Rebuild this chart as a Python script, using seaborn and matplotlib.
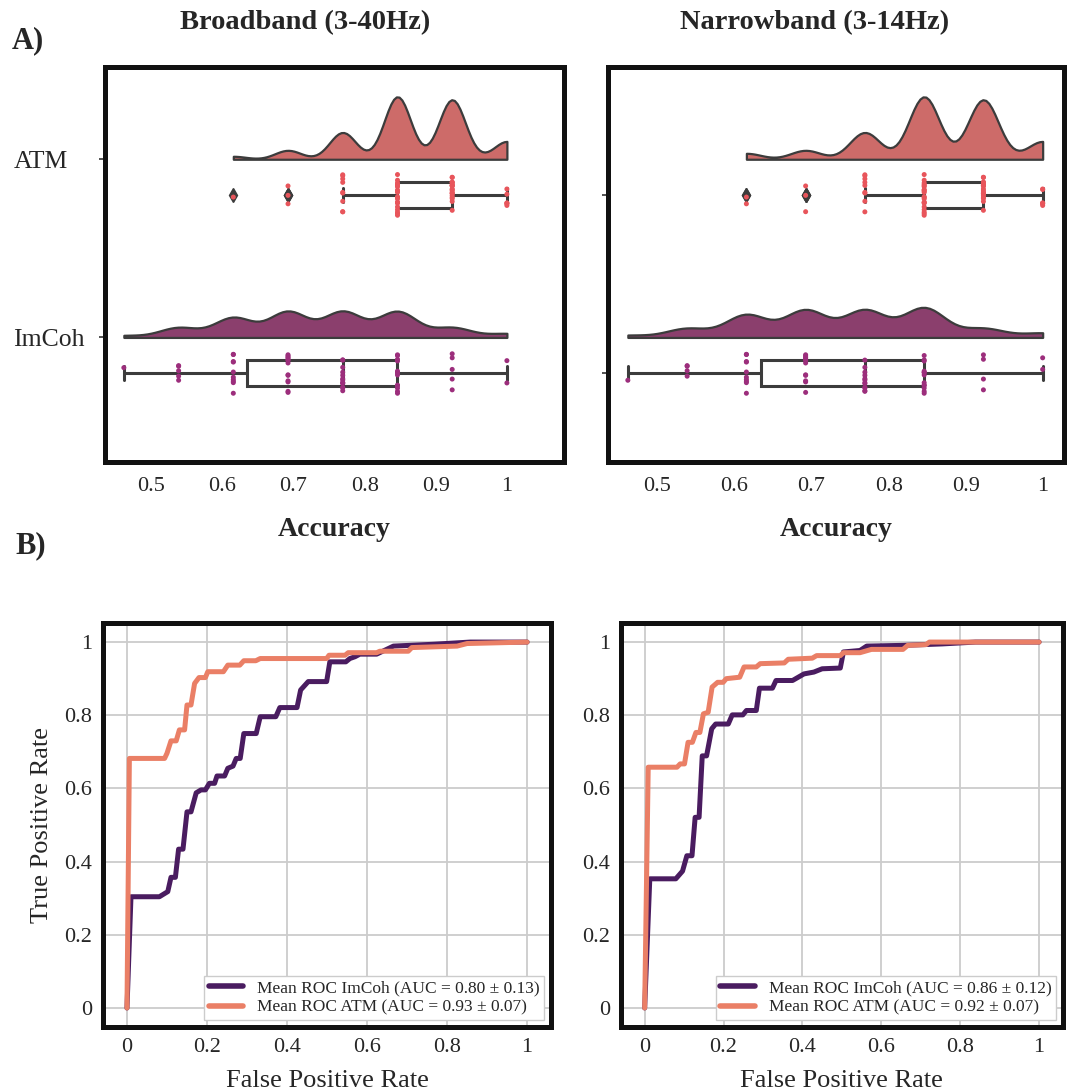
import numpy as np
import pandas as pd
import matplotlib.pyplot as plt
import seaborn as sns
from matplotlib.ticker import FormatStrFormatter

sns.set_theme(style='white')
plt.rcParams['font.family'] = ['Liberation Serif', 'DejaVu Serif']

# accuracy levels (k/13 correct) and how many runs hit each one
ACC_LEVELS = [0.4615, 0.5385, 0.6154, 0.6923, 0.7692, 0.8462, 0.9231, 1.0]
GROUPS = ['ATM', 'ImCoh']
BROAD_ATM = [0, 0, 1, 3, 9, 21, 20, 6]
BROAD_IMCOH = [1, 5, 10, 13, 13, 13, 5, 2]
NARROW_ATM = [0, 0, 2, 3, 9, 21, 20, 6]
NARROW_IMCOH = [1, 4, 10, 12, 12, 13, 4, 2]

# mean roc curves
BROAD_IMCOH_FPR = [0.0, 0.01, 0.081, 0.102, 0.11, 0.121, 0.129, 0.14, 0.15, 0.16, 0.173, 0.185, 0.196, 0.206,
                   0.219, 0.225, 0.244, 0.252, 0.265, 0.273, 0.283, 0.292, 0.323, 0.333, 0.372, 0.382, 0.425,
                   0.434, 0.453, 0.499, 0.507, 0.547, 0.557, 0.57, 0.582, 0.624, 0.666, 0.766, 0.858, 1.0]
BROAD_IMCOH_TPR = [0.0, 0.304, 0.304, 0.318, 0.357, 0.357, 0.434, 0.434, 0.536, 0.536, 0.588, 0.596, 0.596,
                   0.614, 0.614, 0.634, 0.634, 0.655, 0.661, 0.682, 0.682, 0.75, 0.75, 0.796, 0.796, 0.821,
                   0.821, 0.869, 0.892, 0.892, 0.946, 0.946, 0.955, 0.96, 0.967, 0.967, 0.989, 0.994, 1.0, 1.0]
BROAD_ATM_FPR = [0.0, 0.006, 0.094, 0.10, 0.11, 0.123, 0.131, 0.144, 0.15, 0.16, 0.169, 0.18, 0.196, 0.202,
                 0.241, 0.252, 0.282, 0.292, 0.322, 0.333, 0.499, 0.505, 0.545, 0.553, 0.624, 0.632, 0.703,
                 0.712, 0.825, 0.85, 1.0]
BROAD_ATM_TPR = [0.0, 0.682, 0.682, 0.696, 0.73, 0.73, 0.76, 0.76, 0.828, 0.828, 0.887, 0.903, 0.903, 0.919,
                 0.919, 0.937, 0.937, 0.949, 0.949, 0.955, 0.955, 0.964, 0.964, 0.971, 0.971, 0.975, 0.975,
                 0.985, 0.989, 0.996, 1.0]
NARROW_IMCOH_FPR = [0.0, 0.013, 0.079, 0.096, 0.107, 0.12, 0.128, 0.138, 0.146, 0.157, 0.17, 0.18, 0.212,
                    0.222, 0.249, 0.258, 0.283, 0.291, 0.324, 0.333, 0.375, 0.404, 0.429, 0.45, 0.496, 0.504,
                    0.546, 0.563, 0.655, 0.755, 0.839, 1.0]
NARROW_IMCOH_TPR = [0.0, 0.353, 0.353, 0.374, 0.416, 0.416, 0.521, 0.521, 0.689, 0.689, 0.763, 0.776, 0.776,
                    0.801, 0.801, 0.813, 0.813, 0.874, 0.874, 0.895, 0.895, 0.913, 0.918, 0.927, 0.929, 0.973,
                    0.977, 0.989, 0.991, 0.995, 1.0, 1.0]
NARROW_ATM_FPR = [0.0, 0.009, 0.082, 0.09, 0.101, 0.11, 0.121, 0.13, 0.14, 0.149, 0.161, 0.171, 0.185, 0.199,
                  0.207, 0.241, 0.252, 0.283, 0.293, 0.354, 0.364, 0.425, 0.436, 0.496, 0.504, 0.546, 0.575,
                  0.655, 0.667, 0.713, 0.722, 1.0]
NARROW_ATM_TPR = [0.0, 0.658, 0.658, 0.667, 0.667, 0.726, 0.726, 0.753, 0.753, 0.804, 0.808, 0.877, 0.89,
                  0.89, 0.9, 0.904, 0.932, 0.932, 0.941, 0.943, 0.953, 0.956, 0.963, 0.963, 0.971, 0.971, 0.98,
                  0.98, 0.991, 0.993, 1.0, 1.0]
BROAD_AUC = {'ImCoh': (0.80, 0.13), 'ATM': (0.93, 0.07)}
NARROW_AUC = {'ImCoh': (0.86, 0.12), 'ATM': (0.92, 0.07)}

VIOLIN_COLORS = ['#cd6b69', '#8b3f6d']
DOT_COLORS = {'ATM': '#e8555b', 'ImCoh': '#9c2e7c'}
ROC_COLORS = {'ImCoh': '#4a1c60', 'ATM': '#ea7f66'}
EDGE = '#3c3c3c'
CLOUD_W = 0.35   # height of the half violins (category units)


def raincloud(ax, atm_counts, imcoh_counts):
    acc = np.concatenate([np.repeat(ACC_LEVELS, atm_counts), np.repeat(ACC_LEVELS, imcoh_counts)])
    grp = ['ATM'] * sum(atm_counts) + ['ImCoh'] * sum(imcoh_counts)
    df = pd.DataFrame({'group': grp, 'acc': acc})
    base = df['group'].map({'ATM': 0.0, 'ImCoh': 1.0})
    # split violin without hue fills the whole slot, so shift it up to sit on the category line
    df['vpos'] = base - CLOUD_W / 2
    df['bpos'] = base + 0.2

    sns.violinplot(data=df, x='acc', y='vpos', orient='h', native_scale=True, split=True, inner=None,
                   cut=0, bw_adjust=0.5, width=CLOUD_W, color=VIOLIN_COLORS[0], saturation=1,
                   linewidth=1.6, linecolor=EDGE, ax=ax)
    for coll, c in zip(ax.collections, VIOLIN_COLORS):
        coll.set_facecolor(c)

    np.random.seed(3)
    sns.stripplot(data=df, x='acc', y='bpos', hue='group', palette=DOT_COLORS, orient='h',
                  native_scale=True, jitter=0.12, size=3.6, legend=False, ax=ax)
    sns.boxplot(data=df, x='acc', y='bpos', orient='h', native_scale=True, width=0.15, color='white',
                linecolor=EDGE, linewidth=2.2, boxprops={'facecolor': 'none'},
                flierprops={'marker': 'd', 'markersize': 7, 'markerfacecolor': EDGE, 'markeredgecolor': EDGE},
                ax=ax)
    ax.set_ylim(1.70, -0.517)
    ax.set_xticks([0.5, 0.6, 0.7, 0.8, 0.9, 1.0])
    ax.xaxis.set_major_formatter(FormatStrFormatter('%g'))
    ax.tick_params(axis='x', length=0, pad=11, labelsize=16)
    ax.set_xlabel('Accuracy', fontsize=20, fontweight='bold', labelpad=15)
    ax.set_ylabel('')


def roc(ax, im_fpr, im_tpr, atm_fpr, atm_tpr, auc):
    sns.lineplot(x=im_fpr, y=im_tpr, color=ROC_COLORS['ImCoh'], lw=3.6, estimator=None, sort=False,
                 label='Mean ROC ImCoh (AUC = %.2f \u00b1 %.2f)' % auc['ImCoh'], ax=ax)
    sns.lineplot(x=atm_fpr, y=atm_tpr, color=ROC_COLORS['ATM'], lw=3.6, estimator=None, sort=False,
                 label='Mean ROC ATM (AUC = %.2f \u00b1 %.2f)' % auc['ATM'], ax=ax)
    ax.set_xlim(-0.06, 1.06)
    ax.set_ylim(-0.052, 1.052)
    ticks = [0, 0.2, 0.4, 0.6, 0.8, 1.0]
    ax.set_xticks(ticks)
    ax.set_yticks(ticks)
    ax.xaxis.set_major_formatter(FormatStrFormatter('%g'))
    ax.yaxis.set_major_formatter(FormatStrFormatter('%g'))
    ax.grid(True, color='#cccccc', linewidth=1.3)
    ax.set_axisbelow(True)
    ax.tick_params(length=0, pad=8, labelsize=16)
    ax.set_xlabel('False Positive Rate', fontsize=19, labelpad=9)
    leg = ax.legend(loc='lower right', fontsize=12.5, labelspacing=0.2, borderpad=0.25,
                    handlelength=2.0, borderaxespad=0.4, framealpha=1, edgecolor='#cccccc', fancybox=False)
    for line in leg.get_lines():
        line.set_linewidth(4)


fig = plt.figure(figsize=(10.67, 10.9), dpi=100)
ax_a1 = fig.add_axes([0.0984, 0.576, 0.430, 0.3624])
ax_a2 = fig.add_axes([0.570, 0.576, 0.4274, 0.3624])
ax_b1 = fig.add_axes([0.0965, 0.0578, 0.420, 0.3706])
ax_b2 = fig.add_axes([0.582, 0.0578, 0.414, 0.3706])

raincloud(ax_a1, BROAD_ATM, BROAD_IMCOH)
ax_a1.set_xlim(0.435, 1.08)
ax_a1.set_yticks([0, 1])
ax_a1.set_yticklabels(GROUPS, fontsize=18.5, ha='left')
ax_a1.tick_params(axis='y', left=True, length=4, width=1.2, color='#333333', pad=62)

raincloud(ax_a2, NARROW_ATM, NARROW_IMCOH)
ax_a2.set_xlim(0.436, 1.028)
ax_a2.set_yticks([0.2, 1.2])
ax_a2.set_yticklabels(['', ''])
ax_a2.tick_params(axis='y', left=True, length=4, width=1.2, color='#333333')

roc(ax_b1, BROAD_IMCOH_FPR, BROAD_IMCOH_TPR, BROAD_ATM_FPR, BROAD_ATM_TPR, BROAD_AUC)
ax_b1.set_ylabel('True Positive Rate', fontsize=19, labelpad=8)
roc(ax_b2, NARROW_IMCOH_FPR, NARROW_IMCOH_TPR, NARROW_ATM_FPR, NARROW_ATM_TPR, NARROW_AUC)
ax_b2.set_ylabel('')

for ax in [ax_a1, ax_a2, ax_b1, ax_b2]:
    for sp in ax.spines.values():
        sp.set_linewidth(3.6)
        sp.set_color('#111111')

fig.text(0.286, 0.979, 'Broadband (3-40Hz)', ha='center', va='center', fontsize=20.5, fontweight='bold')
fig.text(0.763, 0.979, 'Narrowband (3-14Hz)', ha='center', va='center', fontsize=20.5, fontweight='bold')
fig.text(0.011, 0.963, 'A)', ha='left', va='center', fontsize=22, fontweight='bold')
fig.text(0.014, 0.499, 'B)', ha='left', va='center', fontsize=22, fontweight='bold')

fig.savefig('out.png', dpi=100)
